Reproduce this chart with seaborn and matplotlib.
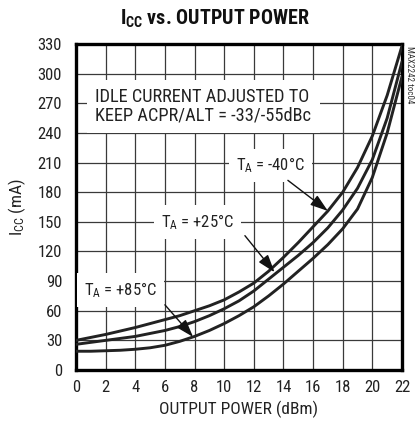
import matplotlib
matplotlib.use("Agg")
import matplotlib.pyplot as plt
import pandas as pd
import seaborn as sns

# Output power (dBm) and supply current (mA)
POWER = list(range(0, 23))
ICC_M40 = [30, 33, 36, 39.5, 43, 47, 51, 55, 60, 65, 71, 79, 88, 100, 114, 129, 145, 161, 180, 205, 237, 278, 328]
ICC_P25 = [26, 28, 30, 32, 34, 37, 40, 44, 49, 55, 62, 70, 80, 92, 104, 116, 129, 144, 162, 184, 213, 255, 312]
ICC_P85 = [19, 19, 19.5, 20, 21, 22.5, 25, 29, 34, 40, 47, 55, 64, 75, 87, 100, 113, 127, 143, 163, 195, 240, 297]
TEMPS = ["-40", "+25", "+85"]

X_TICKS = list(range(0, 23, 2))
Y_TICKS = list(range(0, 331, 30))

sns.set_theme(style="white")
plt.rcParams["font.family"] = ["Roboto Condensed", "DejaVu Sans"]
plt.rcParams["mathtext.default"] = "regular"

df = pd.concat([
    pd.DataFrame({"power": POWER, "icc": vals, "temp": t})
    for t, vals in zip(TEMPS, [ICC_M40, ICC_P25, ICC_P85])
], ignore_index=True)

fig = plt.figure(figsize=(4.16, 4.32), dpi=100)
ax = fig.add_axes([0.1827, 0.1435, 0.7836, 0.7546])

sns.lineplot(data=df, x="power", y="icc", hue="temp",
             palette={t: "#222222" for t in TEMPS}, linewidth=2.1,
             legend=False, sort=False, ax=ax, zorder=3)

ax.set_xlim(0, 22)
ax.set_ylim(0, 330)
ax.set_xticks(X_TICKS)
ax.set_yticks(Y_TICKS)
ax.tick_params(length=0, labelsize=12, colors="#222222")
ax.tick_params(axis="x", pad=7)
ax.tick_params(axis="y", pad=10)
ax.grid(True, color="#3a3a3a", linewidth=0.9)
ax.set_axisbelow(True)
for sp in ax.spines.values():
    sp.set_visible(True)
    sp.set_color("black")
    sp.set_linewidth(2.4)

ax.set_xlabel("OUTPUT POWER (dBm)", fontsize=12.5, labelpad=4, color="#222222")
ax.set_ylabel("I$_{CC}$ (mA)", fontsize=12.5, labelpad=7, color="#222222")
fig.text(0.517, 0.957, "I$_{CC}$ vs. OUTPUT POWER", ha="center", va="center",
         fontsize=14.5, fontweight="heavy", color="#111111")
fig.text(0.985, 0.828, "MAX2242 toc04", rotation=270, ha="center", va="center",
         fontsize=6.5, color="#333333")

ax.text(1.3, 267, "IDLE CURRENT ADJUSTED TO\nKEEP ACPR/ALT = -33/-55dBc",
        ha="left", va="center", fontsize=13.2, linespacing=1.05, color="#222222",
        bbox=dict(facecolor="white", edgecolor="none", pad=6), zorder=4)

labels = [
    ("T$_A$ = -40°C", (13.1, 207), (14.3, 192), (17.0, 161)),
    ("T$_A$ = +25°C", (8.2, 150), (11.4, 136), (13.4, 99)),
    ("T$_A$ = +85°C", (3.0, 81), (6.0, 66), (7.9, 33.5)),
]
for text, pos, tail, tip in labels:
    ax.text(pos[0], pos[1], text, ha="center", va="center", fontsize=12,
            color="#222222", bbox=dict(facecolor="white", edgecolor="none", pad=5), zorder=4)
    ax.annotate("", xy=tip, xytext=tail, zorder=5,
                arrowprops=dict(arrowstyle="-|>,head_length=0.9,head_width=0.3",
                                color="#111111", lw=1.0, shrinkA=0, shrinkB=0))

fig.savefig("out.png", dpi=100)
